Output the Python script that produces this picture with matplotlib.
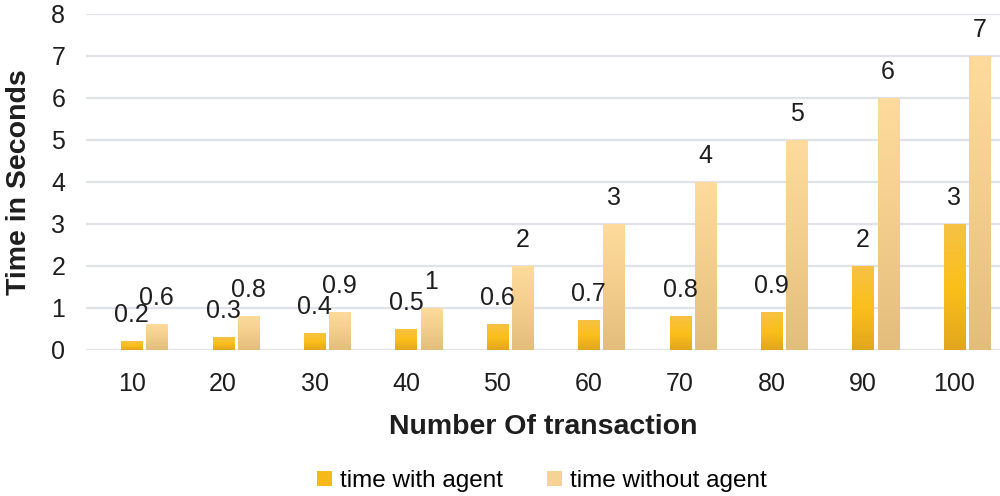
import matplotlib.pyplot as plt
import numpy as np
from matplotlib.colors import LinearSegmentedColormap
from matplotlib.patches import Patch

plt.rcParams['font.family'] = ['Liberation Sans', 'DejaVu Sans']

transactions = ["10", "20", "30", "40", "50", "60", "70", "80", "90", "100"]
with_agent = [0.2, 0.3, 0.4, 0.5, 0.6, 0.7, 0.8, 0.9, 2, 3]
without_agent = [0.6, 0.8, 0.9, 1, 2, 3, 4, 5, 6, 7]

orange_cmap = LinearSegmentedColormap.from_list("o", ["#e2a61e", "#fbbf1a", "#f6c245"])
light_cmap = LinearSegmentedColormap.from_list("l", ["#e3bd7c", "#f3cd8c", "#fedb9c"])

fig = plt.figure(figsize=(10, 4.96), dpi=100)
ax = fig.add_axes([0.086, 0.2944, 0.914, 0.6774])

x = np.arange(len(transactions))
w = 0.23
grad = np.linspace(0, 1, 256).reshape(-1, 1)


def gradient_bars(xs, vals, cmap):
    bars = ax.bar(xs, vals, width=w, color="none", zorder=3)
    for b in bars:
        x0, y0 = b.get_x(), b.get_y()
        ax.imshow(grad, cmap=cmap, origin="lower", aspect="auto",
                  extent=[x0, x0 + b.get_width(), y0, y0 + b.get_height()],
                  zorder=3)
    return bars


gradient_bars(x, with_agent, orange_cmap)
gradient_bars(x + 0.275, without_agent, light_cmap)

for xi, v in zip(x, with_agent):
    ax.annotate(f"{v:g}", (xi, v), xytext=(0, 19), textcoords="offset points",
                ha="center", va="center", fontsize=18, color="#1e1e1e")
for xi, v in zip(x + 0.275, without_agent):
    ax.annotate(f"{v:g}", (xi, v), xytext=(0, 19), textcoords="offset points",
                ha="center", va="center", fontsize=18, color="#1e1e1e")

ax.set_xlim(-0.5, 9.5)
ax.set_ylim(0, 8)
ax.set_yticks(range(0, 9))
ax.set_xticks(x)
ax.set_xticklabels(transactions)
ax.tick_params(axis="both", length=0, labelsize=18, colors="#1e1e1e")
ax.tick_params(axis="x", pad=16)
ax.tick_params(axis="y", pad=15)
ax.grid(axis="y", color="#dfe2e9", linewidth=1.6, zorder=0)
ax.set_axisbelow(True)
for s in ["top", "right", "left", "bottom"]:
    ax.spines[s].set_visible(False)

ax.set_ylabel("Time in Seconds", fontsize=20.5, fontweight="bold", labelpad=14, color="#1e1e1e")
ax.set_xlabel("Number Of transaction", fontsize=20.5, fontweight="bold", labelpad=13, color="#1e1e1e")

handles = [Patch(facecolor="#f7b91a", label="time with agent"),
           Patch(facecolor="#f6d294", label="time without agent")]
fig.legend(handles=handles, loc="center", bbox_to_anchor=(0.542, 0.03), ncol=2,
           frameon=False, fontsize=17.5, handlelength=0.6, handleheight=0.6,
           handletextpad=0.35, columnspacing=1.8)

fig.savefig("out.png", dpi=100)
